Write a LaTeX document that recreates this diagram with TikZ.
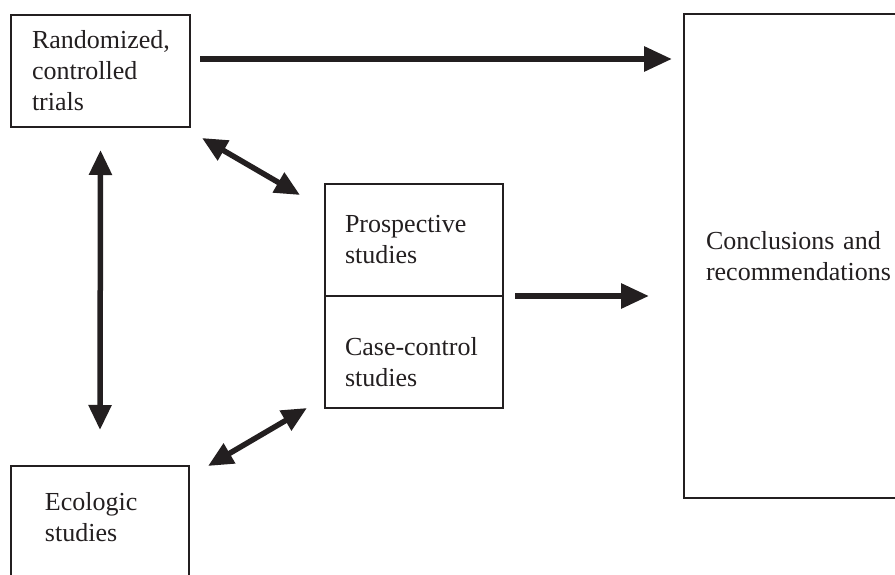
\documentclass[tikz,border=0pt]{standalone}
\usepackage{fontspec}
\setmainfont{Liberation Serif}
\usetikzlibrary{arrows.meta}
\definecolor{ink}{HTML}{231F20}
\begin{document}
\begin{tikzpicture}[x=1pt,y=1pt,
	box/.style={draw=ink,line width=1.8pt,anchor=north west,align=left,inner ysep=0pt,outer sep=0pt,
		font=\fontsize{26}{31}\selectfont,text=ink},
	arr/.style={draw=ink,line width=6pt,-{Triangle[length=28pt,width=24pt]}},
	dbl/.style={draw=ink,line width=5.5pt,{Triangle[length=25pt,width=22pt]}-{Triangle[length=25pt,width=22pt]}}]
	
	\useasboundingbox (0,0) rectangle (895,574);
	
	\node [box,inner xsep=21pt,text width=137pt,minimum height=112pt] (rct) at (11,559) {Randomized,\\controlled\\trials};
	\node [box,inner xsep=20pt,text width=138pt,minimum height=112pt] (pros) at (325,390) {Prospective\\studies};
	\node [box,inner xsep=20pt,text width=138pt,minimum height=112pt,text depth=12pt] (case) at (pros.south west) {Case-control\\studies};
	\node [box,inner xsep=22pt,text width=220pt,minimum height=484pt] (concl) at (684,560) {Conclusions and\\recommendations};
	\node [box,inner xsep=34pt,inner ysep=26pt,text width=110pt,text depth=60pt] (eco) at (11,108) {Ecologic\\studies};
	
	\draw [arr] ([shift={(10,-44)}]rct.north east) -- ([shift={(-12,-45)}]concl.north west);
	\draw [arr] ([xshift=12]pros.south east) -- ([shift={(-35,-282)}]concl.north west);
	
	\draw [dbl] ([yshift=-23]rct.south) -- ([yshift=36]eco.north);
	\draw [dbl] ([shift={(12,-11)}]rct.south east) -- ([shift={(-25,-11)}]pros.north west);
	\draw [dbl] ([xshift=19]eco.north east) -- ([xshift=-18]case.south west);

\end{tikzpicture}
\end{document}
